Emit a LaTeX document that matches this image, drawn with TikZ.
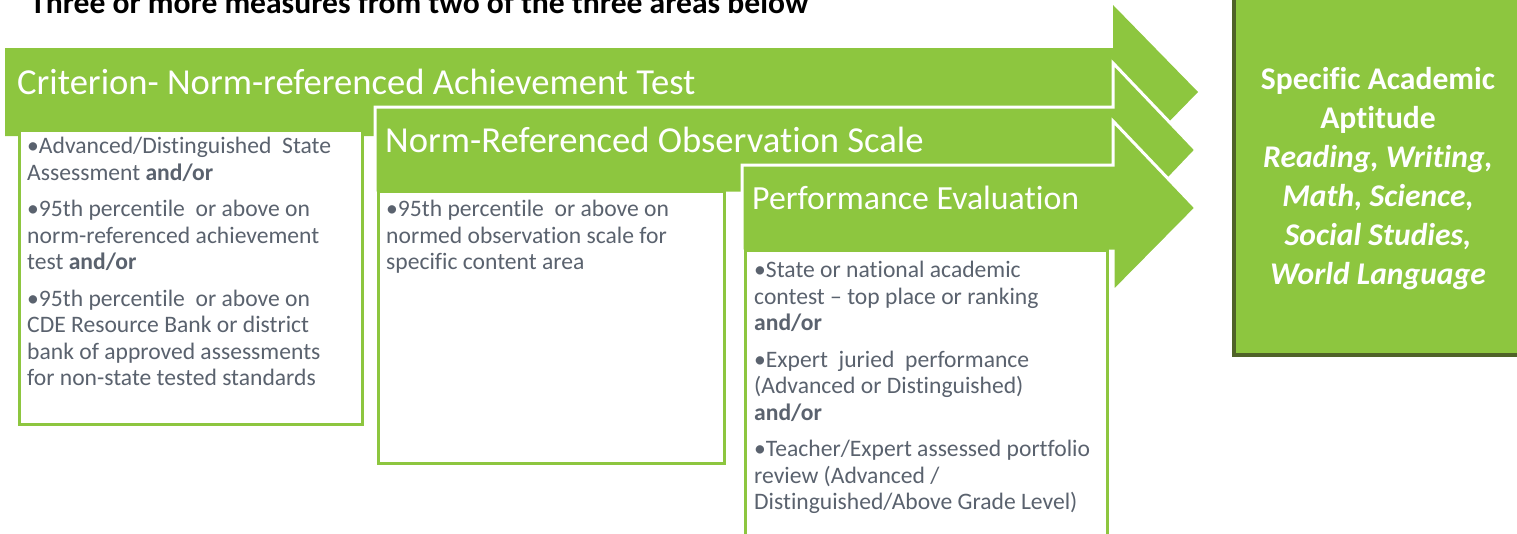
\documentclass[tikz,border=0pt]{standalone}
\usepackage{fontspec}
\setmainfont[Ligatures={NoCommon,NoContextual}, Contextuals=NoAlternate]{Carlito}
\definecolor{leaf}{RGB}{141,198,63}
\definecolor{moss}{RGB}{79,98,40}
\definecolor{slate}{RGB}{90,98,110}

\begin{document}
\begin{tikzpicture}[x=1pt, y=-1pt,
  arrowbody/.style={fill=leaf},
  arrowrim/.style={fill=leaf, draw=white, line width=3pt},
  listbox/.style={draw=leaf, fill=white, line width=3pt},
  headtext/.style={anchor=base west, inner sep=0pt, text=white, font=\fontsize{36.6}{40}\selectfont},
  listtext/.style={anchor=north west, inner sep=0pt, align=left, text=slate, font=\fontsize{23.6}{26.5}\selectfont}]
\useasboundingbox (0,0) rectangle (1517,533);
\clip (0,0) rectangle (1517,533);
\node[anchor=base west, inner sep=0pt, font=\bfseries\fontsize{31.6}{34}\selectfont] (title) at (30,13) {Three or more measures from two of the three areas below};
\fill[arrowbody] (5,48) -- (1113,48) -- (1113,5) -- (1198,92) -- (1113,179) -- (1113,136) -- (5,136) -- cycle;
\draw[listbox] (19,130) rectangle (362,424);
\draw[arrowrim] (375,107) -- (1113,107) -- (1113,63) -- (1196,150) -- (1113,237) -- (1113,193) -- (375,193) -- cycle;
\draw[listbox] (378,191) rectangle (724,463);
\draw[arrowrim] (742,165) -- (1113,165) -- (1113,121) -- (1196,208) -- (1113,292) -- (1113,251) -- (742,251) -- cycle;
\draw[listbox] (745,250) rectangle (1107,545);
\draw[draw=moss, fill=leaf, line width=4pt] (1234,-10) rectangle (1530,355);
\node[headtext] (crit) at (17,94) {Criterion- Norm-referenced Achievement Test};
\node[headtext] (norm) at (385,152) {Norm-Referenced Observation Scale};
\node[headtext, font=\fontsize{33.8}{40}\selectfont] (perf) at (752,209) {Performance Evaluation};
\node[listtext] (critlist) at (27,137) {\textbullet Advanced/Distinguished\ \ State\\Assessment \textbf{and/or}\\[10pt]
\textbullet 95th percentile\ \ or above on\\norm-referenced achievement\\test \textbf{and/or}\\[10pt]
\textbullet 95th percentile\ \ or above on\\CDE Resource Bank or district\\bank of approved assessments\\for non-state tested standards};
\node[listtext] (normlist) at (386,200) {\textbullet 95th percentile\ \ or above on\\normed observation scale for\\specific content area};
\node[listtext] (perflist) at (754,261) {\textbullet State or national academic\\contest -- top place or ranking\\\textbf{and/or}\\[10pt]
\textbullet Expert\ \ juried\ \ performance\\(Advanced or Distinguished)\\\textbf{and/or}\\[10pt]
\textbullet Teacher/Expert assessed portfolio\\review (Advanced /\\Distinguished/Above Grade Level)};
\node[anchor=north, inner sep=0pt, align=center, text=white, font=\bfseries\fontsize{31.6}{39}\selectfont] (goal) at (1378,67) {Specific Academic\\Aptitude\\\textit{Reading, Writing,}\\\textit{Math, Science,}\\\textit{Social Studies,}\\\textit{World Language}};
\end{tikzpicture}
\end{document}
